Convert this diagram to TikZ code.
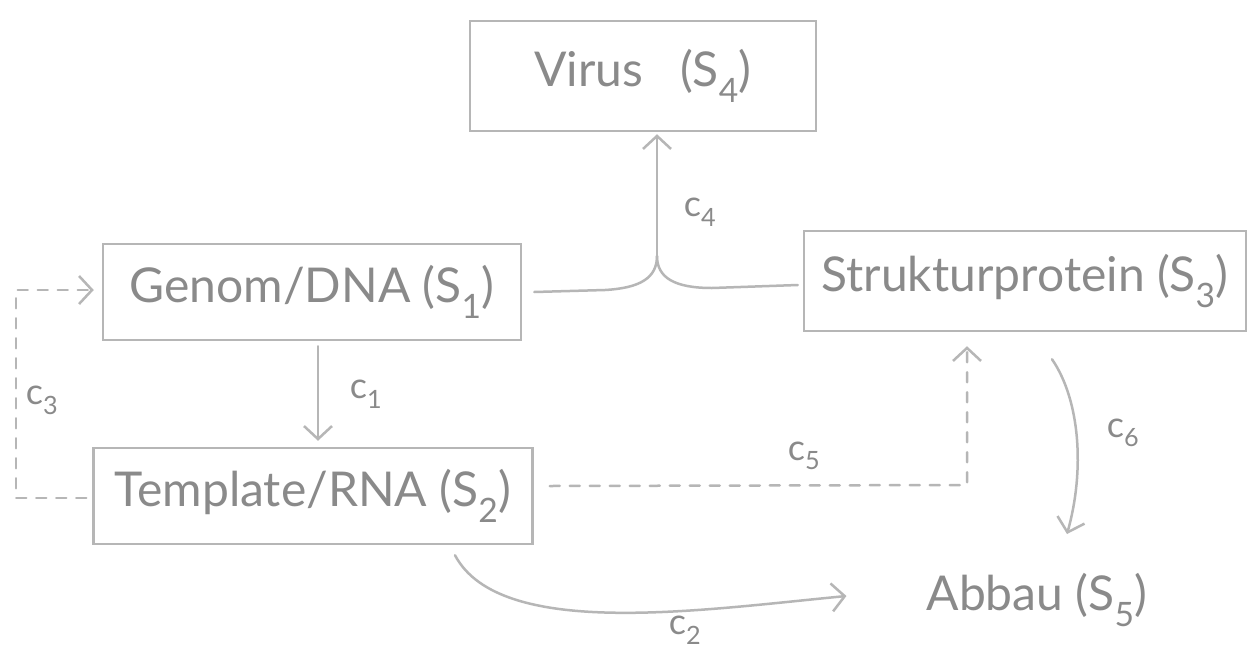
\documentclass[tikz,border=0pt]{standalone}
\usepackage{fontspec}
\setmainfont{Lato}
\usetikzlibrary{arrows.meta,calc}
\definecolor{pencil}{HTML}{B6B6B6}
\definecolor{ink}{HTML}{8A8A8A}
\begin{document}
\begin{tikzpicture}[x=1pt,y=-1pt,
  box/.style={draw=pencil,line width=2.5pt,text=ink,inner sep=0pt,
    font=\fontsize{48}{50}\selectfont},
  plain/.style={text=ink,inner sep=0pt,font=\fontsize{48}{50}\selectfont},
  lbl/.style={text=ink,inner sep=0pt,font=\fontsize{36}{38}\selectfont},
  line/.style={draw=pencil,line width=2.5pt,line cap=round,line join=round},
  arr/.style={line,-{Straight Barb[length=13pt,width=28pt]}},
  dash5/.style={dash pattern=on 10pt off 10pt}]
\useasboundingbox[fill=white] (0,0) rectangle (1248,654);

% states
\node[box,minimum width=346pt,minimum height=110pt] (virus) at (643,76) {Virus\ \ \ (S\textsubscript{4})};
\node[box,minimum width=418pt,minimum height=96pt] (genom) at (312,292) {Genom/DNA (S\textsubscript{1})};
\node[box,minimum width=442pt,minimum height=100pt] (struk) at (1025,281) {Strukturprotein (S\textsubscript{3})};
\node[box,minimum width=439pt,minimum height=96pt] (tmpl) at (313,496) {Template/RNA (S\textsubscript{2})};
\node[plain] (abbau) at (1037,600) {Abbau (S\textsubscript{5})};

% c1: transcription
\draw[arr] ($(genom.south)+(6,5)$) -- ($(tmpl.north)+(5,-6)$);
\node[lbl] (l1) at (366,394) {c\textsubscript{1}};

% c4: assembly of genome and structural protein
\coordinate (m4) at (657,256);
\draw[line] ($(genom.east)+(12,0)$) -- (605,290) .. controls (640,288) and (657,278) .. (m4);
\draw[line] ($(struk.west)+(-5,4)$) -- (712,288) .. controls (675,288) and (657,278) .. (m4);
\draw[arr] (m4) -- ($(virus.south)+(14,2)$);
\node[lbl] (l4) at (700,212) {c\textsubscript{4}};

% c3: replication back to the genome
\coordinate (k3) at (16,400);
\draw[arr,dash5] ($(tmpl.west)+(-6,2)$) -| (k3) |- ($(genom.west)+(-8,-2)$);
\node[lbl] (l3) at (42,400) {c\textsubscript{3}};

% c5: translation into structural protein
\coordinate (k5) at (967,485);
\draw[arr,dash5] ($(tmpl.east)+(16,-10)$) -- (k5) -- ($(struk.south)+(-58,14)$);
\node[lbl] (l5) at (804,456) {c\textsubscript{5}};

% c6: degradation of structural protein
\coordinate (s6) at ($(struk.south)+(27,27)$);
\coordinate (e6) at (1067,534);
\draw[arr] (s6) .. controls (1080,400) and (1085,470) .. (e6);
\node[lbl] (l6) at (1123,433) {c\textsubscript{6}};

% c2: degradation of template
\coordinate (s2) at ($(tmpl.south)+(142,10)$);
\coordinate (e2) at ($(abbau.west)+(-80,-4)$);
\draw[arr] (s2) .. controls (500,640) and (700,610) .. (e2);
\node[lbl] (l2) at (685,630) {c\textsubscript{2}};
\end{tikzpicture}
\end{document}
